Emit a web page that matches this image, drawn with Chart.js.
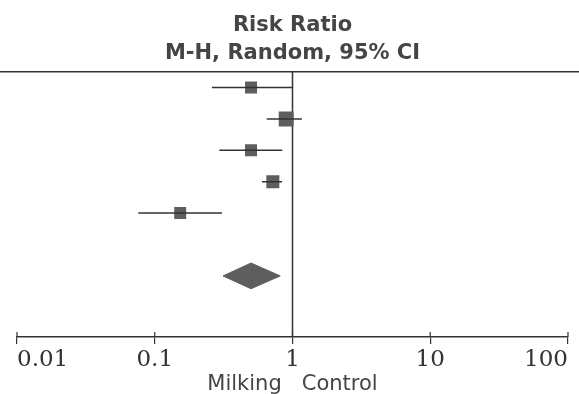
<!DOCTYPE html>
<html>
<head>
<meta charset="utf-8">
<script src="https://cdn.jsdelivr.net/npm/chart.js@4/dist/chart.umd.min.js"></script>
<style>
  html, body { margin: 0; padding: 0; background: #ffffff; }
  #wrap { width: 579px; height: 394px; position: relative; }
</style>
</head>
<body>
<div id="wrap"><canvas id="forest"></canvas></div>
<script>
/* ---------- dados ---------- */

// estudos (linhas de cima para baixo)
const linhas = [1, 2, 3, 4, 5];
const riscoRelativo = [0.50, 0.90, 0.50, 0.72, 0.153];
const limiteInferior = [0.26, 0.65, 0.294, 0.60, 0.076];
const limiteSuperior = [1.01, 1.17, 0.843, 0.84, 0.308];
const pesos = [17.5, 27, 17.5, 20.5, 17.5];

// estimativa combinada (diamante)
const linhaTotal = 7;
const totalEstimativa = 0.50;
const totalInferior = 0.313;
const totalSuperior = 0.815;

// eixo
const valoresTicks = [0.01, 0.1, 1, 10, 100];
const rotulosTicks = ['0.01', '0.1', '1', '10', '100'];
const linhaNula = 1;

const tituloLinhas = ['Risk Ratio', 'M-H, Random, 95% CI'];
const tituloEixo = 'Milking   Control';

/* ---------- estilo ---------- */

const corTexto = '#454545';
const corLinha = '#333333';
const corMarca = '#5e5e5e';
const meiaAltDiamante = 0.41;

// lado do quadrado proporcional a raiz do peso
const raios = pesos.map(p => 2.87 * Math.sqrt(p) / Math.SQRT2);

/* ---------- datasets ---------- */

const bigodes = linhas.map((y, i) => ({
  type: 'line',
  data: [{ x: limiteInferior[i], y }, { x: limiteSuperior[i], y }],
  borderColor: corLinha,
  borderWidth: 1.5,
  pointRadius: 0,
  fill: false
}));

const quadrados = {
  type: 'scatter',
  data: linhas.map((y, i) => ({ x: riscoRelativo[i], y })),
  pointStyle: 'rect',
  pointRadius: raios,
  backgroundColor: corMarca,
  borderWidth: 0
};

const diamante = {
  type: 'line',
  data: [
    { x: totalInferior, y: linhaTotal },
    { x: totalEstimativa, y: linhaTotal - meiaAltDiamante },
    { x: totalSuperior, y: linhaTotal },
    { x: totalEstimativa, y: linhaTotal + meiaAltDiamante },
    { x: totalInferior, y: linhaTotal }
  ],
  borderColor: corMarca,
  borderWidth: 1,
  backgroundColor: corMarca,
  pointRadius: 0,
  tension: 0,
  fill: 'shape'
};

/* ---------- plugin: linha do topo, linha nula, ticks ---------- */

const linhasExtras = {
  id: 'linhasExtras',
  beforeDatasetsDraw(chart) {
    const { ctx, chartArea, scales } = chart;
    ctx.save();
    ctx.strokeStyle = corLinha;
    ctx.lineWidth = 1.5;

    // linha horizontal do topo
    ctx.beginPath();
    ctx.moveTo(0, chartArea.top);
    ctx.lineTo(chart.width, chartArea.top);
    ctx.stroke();

    // linha vertical em 1
    const xn = scales.x.getPixelForValue(linhaNula);
    ctx.beginPath();
    ctx.moveTo(xn, chartArea.top);
    ctx.lineTo(xn, chartArea.bottom);
    ctx.stroke();

    // metade de cima dos ticks
    ctx.lineWidth = 1.2;
    valoresTicks.forEach(v => {
      const x = scales.x.getPixelForValue(v);
      ctx.beginPath();
      ctx.moveTo(x, chartArea.bottom - 5);
      ctx.lineTo(x, chartArea.bottom);
      ctx.stroke();
    });
    ctx.restore();
  }
};

/* ---------- grafico ---------- */

new Chart(document.getElementById('forest'), {
  data: { datasets: [...bigodes, quadrados, diamante] },
  options: {
    responsive: true,
    maintainAspectRatio: false,
    animation: false,
    layout: { padding: { left: 17, right: 11, top: 0, bottom: 0 } },
    plugins: {
      legend: { display: false },
      tooltip: { enabled: false },
      title: {
        display: true,
        text: tituloLinhas,
        color: corTexto,
        font: { family: 'DejaVu Sans', size: 21, weight: 'bold', lineHeight: 1.33 },
        padding: { top: 12, bottom: 4 }
      }
    },
    scales: {
      x: {
        type: 'logarithmic',
        min: valoresTicks[0],
        max: valoresTicks[valoresTicks.length - 1],
        afterBuildTicks: (escala) => {
          escala.ticks = valoresTicks.map(v => ({ value: v, major: true }));
        },
        ticks: {
          autoSkip: false,
          maxRotation: 0,
          align: 'inner',
          padding: 4,
          color: '#333333',
          font: { family: 'DejaVu Serif', size: 23, lineHeight: 1.0 },
          callback: (valor, indice) => rotulosTicks[indice]
        },
        grid: {
          drawOnChartArea: false,
          drawTicks: true,
          tickLength: 7,
          color: corLinha,
          lineWidth: 1.2
        },
        border: { display: true, color: corLinha, width: 1.5 },
        title: {
          display: true,
          text: tituloEixo,
          color: corTexto,
          font: { family: 'DejaVu Sans', size: 21, lineHeight: 0.9 },
          padding: { top: 0, bottom: 0 }
        }
      },
      y: {
        type: 'linear',
        display: false,
        reverse: true,
        min: 0.5,
        max: 8.95
      }
    }
  },
  plugins: [linhasExtras]
});
</script>
</body>
</html>
